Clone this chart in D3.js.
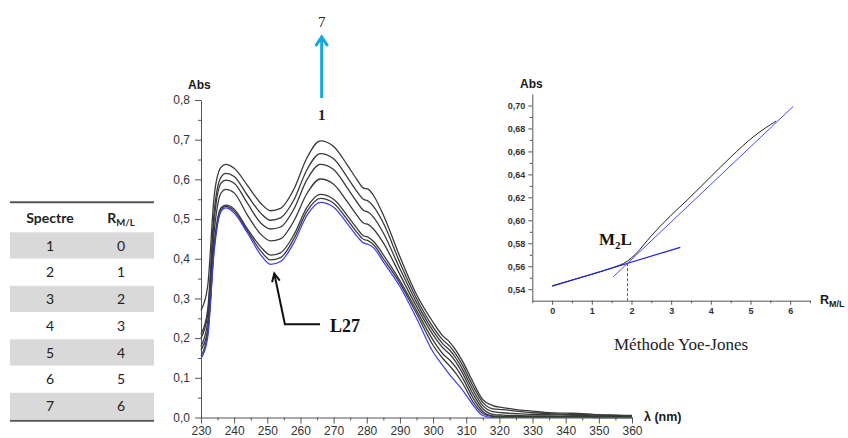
<!DOCTYPE html>
<html><head><meta charset="utf-8">
<script src="https://cdn.jsdelivr.net/npm/d3@7"></script>
<style>body{margin:0;background:#fff;} svg{display:block;}</style>
</head><body><svg id="c" width="848" height="438"></svg>
<script>
// ---------- DATA ----------
const wavelengths = [230,232,234,236,237.5,240,244,248,251,254,258,262,266,270,274,277,279,280.5,282,285,290,295,300,303,305,307,309,312,315,318,321,325,330,335,340,345,350,355,360];
const spectrum1 = [0.148,0.2,0.42,0.518,0.528,0.515,0.465,0.41,0.386,0.393,0.44,0.51,0.542,0.53,0.49,0.457,0.44,0.436,0.428,0.392,0.33,0.25,0.165,0.13,0.108,0.088,0.068,0.032,0.005,0,0,0,0,0,0,0,0,0,0];
const spectrum2 = [0.155,0.21,0.43,0.524,0.532,0.52,0.47,0.42,0.397,0.403,0.45,0.52,0.552,0.54,0.5,0.467,0.449,0.445,0.436,0.4,0.338,0.262,0.182,0.148,0.13,0.11,0.085,0.04,0.01,0.002,0.001,0.001,0.001,0.001,0.001,0.001,0,0,0];
const spectrum3 = [0.17,0.22,0.44,0.528,0.535,0.525,0.475,0.43,0.409,0.415,0.46,0.53,0.562,0.55,0.51,0.477,0.458,0.454,0.444,0.41,0.345,0.27,0.195,0.16,0.145,0.125,0.098,0.05,0.015,0.004,0.003,0.002,0.002,0.002,0.002,0.001,0.001,0.001,0.001];
const spectrum4 = [0.18,0.24,0.47,0.565,0.575,0.566,0.51,0.462,0.445,0.45,0.495,0.565,0.601,0.588,0.545,0.51,0.49,0.486,0.475,0.44,0.36,0.28,0.208,0.175,0.16,0.138,0.11,0.06,0.022,0.008,0.006,0.005,0.004,0.004,0.003,0.003,0.002,0.002,0.002];
const spectrum5 = [0.2,0.26,0.5,0.59,0.598,0.59,0.54,0.49,0.475,0.48,0.525,0.6,0.638,0.625,0.58,0.543,0.522,0.517,0.505,0.465,0.375,0.29,0.218,0.185,0.17,0.148,0.12,0.07,0.03,0.015,0.012,0.01,0.008,0.007,0.006,0.005,0.004,0.004,0.003];
const spectrum6 = [0.21,0.27,0.52,0.605,0.615,0.607,0.56,0.515,0.497,0.503,0.548,0.625,0.665,0.652,0.607,0.57,0.55,0.545,0.532,0.49,0.39,0.3,0.228,0.195,0.18,0.158,0.13,0.08,0.038,0.022,0.02,0.016,0.012,0.01,0.008,0.008,0.006,0.005,0.004];
const spectrum7 = [0.27,0.33,0.56,0.63,0.638,0.628,0.585,0.54,0.521,0.527,0.575,0.655,0.697,0.683,0.638,0.6,0.578,0.575,0.56,0.51,0.405,0.31,0.24,0.205,0.19,0.168,0.14,0.09,0.045,0.03,0.025,0.02,0.016,0.012,0.011,0.01,0.007,0.006,0.005];

const mainXTicks = [230,240,250,260,270,280,290,300,310,320,330,340,350,360];
const mainYTicks = [0,0.1,0.2,0.3,0.4,0.5,0.6,0.7,0.8];

const ratioX   = [0,0.5,1,1.5,1.9,2.1,2.5,3,3.4,4,4.5,5.1,5.65];
const ratioAbs = [0.543,0.548,0.553,0.5585,0.5645,0.5705,0.5865,0.6045,0.6175,0.638,0.655,0.6735,0.6865];
const fitLowX  = [0,3.23];
const fitLowY  = [0.5426,0.5765];
const fitHighX = [1.54,6.08];
const fitHighY = [0.5508,0.6993];
const stoichX = 1.9, stoichY = 0.5626;
const insetXTicks = [0,1,2,3,4,5,6];
const insetYTicks = [0.54,0.56,0.58,0.60,0.62,0.64,0.66,0.68,0.70];

const tableSpectre = ["1","2","3","4","5","6","7"];
const tableRatio   = ["0","1","2","3","4","5","6"];

// ---------- DRAW ----------
const svg = d3.select("#c");
const SANS = "'Liberation Sans', Arial, sans-serif";
const SERIF = "'Liberation Serif', 'Times New Roman', serif";
const comma = f => v => d3.format(f)(v).replace(".", ",");

function styleAxis(g, fs, bold){
  g.select(".domain").attr("stroke","#555").attr("stroke-width",1);
  g.selectAll(".tick line").attr("stroke","#555");
  g.selectAll(".tick text").attr("fill","#333").style("font-family",SANS)
    .style("font-size",fs+"px").style("font-weight",bold?"bold":"normal");
}

// main chart
const x = d3.scaleLinear().domain([230,360]).range([201,632]);
const y = d3.scaleLinear().domain([0,0.8]).range([417.5,100]);

const gy = svg.append("g").attr("transform","translate(201,0)")
  .call(d3.axisLeft(y).tickValues(mainYTicks).tickFormat(comma(".1f")).tickSize(6).tickSizeOuter(0).tickPadding(5));
styleAxis(gy,12,false);
const gym = svg.append("g").attr("transform","translate(201,0)")
  .call(d3.axisLeft(y).tickValues(d3.range(0.05,0.8,0.1)).tickFormat("").tickSize(3).tickSizeOuter(0));
gym.select(".domain").remove(); gym.selectAll("line").attr("stroke","#555");

const gx = svg.append("g").attr("transform","translate(0,417.5)")
  .call(d3.axisBottom(x).tickValues(mainXTicks).tickFormat(d3.format("d")).tickSize(6).tickSizeOuter(0).tickPadding(3));
styleAxis(gx,12,false);
const gxm = svg.append("g").attr("transform","translate(0,417.5)")
  .call(d3.axisBottom(x).tickValues(d3.range(235,360,10)).tickFormat("").tickSize(3).tickSizeOuter(0));
gxm.select(".domain").remove(); gxm.selectAll("line").attr("stroke","#555");

svg.append("text").attr("x",188).attr("y",89).text("Abs")
  .style("font-family",SANS).style("font-size","12px").style("font-weight","bold").attr("fill","#1a1a1a");
svg.append("text").attr("x",644).attr("y",421).text("λ (nm)")
  .style("font-family",SANS).style("font-size","12.5px").style("font-weight","bold").attr("fill","#1a1a1a");

const line = d3.line().x(d=>x(d[0])).y(d=>y(d[1])).curve(d3.curveMonotoneX);
const blacks = [spectrum7,spectrum6,spectrum5,spectrum4,spectrum3,spectrum2];
blacks.forEach(s=>{
  svg.append("path").datum(wavelengths.map((w,i)=>[w,s[i]])).attr("d",line)
    .attr("fill","none").attr("stroke","#3a3a3a").attr("stroke-width",1.3);
});
svg.append("path").datum(wavelengths.map((w,i)=>[w,spectrum1[i]])).attr("d",line)
  .attr("fill","none").attr("stroke","#3b3bf0").attr("stroke-width",1.2);

// cyan arrow 1 -> 7
const ax = x(266.4);
svg.append("line").attr("x1",ax).attr("x2",ax).attr("y1",98).attr("y2",38)
  .attr("stroke","#13a6df").attr("stroke-width",3);
svg.append("path").attr("d",`M${ax-6},${46} L${ax},${37} L${ax+6},${46}`)
  .attr("fill","none").attr("stroke","#13a6df").attr("stroke-width",3).attr("stroke-linejoin","miter");
svg.append("text").attr("x",ax).attr("y",27).attr("text-anchor","middle").text("7")
  .style("font-family",SERIF).style("font-size","15px").attr("fill","#222");
svg.append("text").attr("x",ax).attr("y",120).attr("text-anchor","middle").text("1")
  .style("font-family",SERIF).style("font-size","15px").style("font-weight","bold").attr("fill","#222");

// L27 annotation
const tip=[x(252.1),y(0.363)], elbow=[x(255.3),y(0.2348)], end=[x(265.9),y(0.2348)];
svg.append("path").attr("d",`M${end[0]},${end[1]} L${elbow[0]},${elbow[1]} L${tip[0]},${tip[1]}`)
  .attr("fill","none").attr("stroke","#111").attr("stroke-width",2);
{
  const ang=Math.atan2(tip[1]-elbow[1],tip[0]-elbow[0]);
  const L=9, a=0.45;
  const p1=[tip[0]-L*Math.cos(ang-a),tip[1]-L*Math.sin(ang-a)];
  const p2=[tip[0]-L*Math.cos(ang+a),tip[1]-L*Math.sin(ang+a)];
  svg.append("path").attr("d",`M${p1[0]},${p1[1]} L${tip[0]},${tip[1]} L${p2[0]},${p2[1]}`)
    .attr("fill","none").attr("stroke","#111").attr("stroke-width",2);
}
svg.append("text").attr("x",x(268.9)).attr("y",331.5).text("L27")
  .style("font-family",SERIF).style("font-size","18px").style("font-weight","bold").attr("fill","#111");

// inset
const xi = d3.scaleLinear().domain([-0.5,6.5]).range([532.3,810]);
const yi = d3.scaleLinear().domain([0.53,0.71]).range([300.7,94]);
const giy = svg.append("g").attr("transform","translate(532.3,0)")
  .call(d3.axisLeft(yi).tickValues(insetYTicks).tickFormat(comma(".2f")).tickSize(4).tickSizeOuter(0).tickPadding(3));
styleAxis(giy,9,true);
const giym = svg.append("g").attr("transform","translate(532.3,0)")
  .call(d3.axisLeft(yi).tickValues(d3.range(0.55,0.705,0.02)).tickFormat("").tickSize(2.5).tickSizeOuter(0));
giym.select(".domain").remove(); giym.selectAll("line").attr("stroke","#555");
const gix = svg.append("g").attr("transform","translate(0,300.7)")
  .call(d3.axisBottom(xi).tickValues(insetXTicks).tickFormat(d3.format("d")).tickSize(4).tickSizeOuter(0).tickPadding(3));
styleAxis(gix,9,true);
const gixm = svg.append("g").attr("transform","translate(0,300.7)")
  .call(d3.axisBottom(xi).tickValues(d3.range(-0.5,6.6,1)).tickFormat("").tickSize(2.5).tickSizeOuter(0));
gixm.select(".domain").remove(); gixm.selectAll("line").attr("stroke","#555");

svg.append("text").attr("x",520).attr("y",88).text("Abs")
  .style("font-family",SANS).style("font-size","12px").style("font-weight","bold").attr("fill","#1a1a1a");
const rl = svg.append("text").attr("x",820).attr("y",304)
  .style("font-family",SANS).style("font-weight","bold").attr("fill","#1a1a1a");
rl.append("tspan").text("R").style("font-size","12.5px");
rl.append("tspan").text("M/L").attr("dy",3).style("font-size","9px");

const lineI = d3.line().x(d=>xi(d[0])).y(d=>yi(d[1]));
svg.append("path").datum(ratioX.map((r,i)=>[r,ratioAbs[i]])).attr("d",lineI.curve(d3.curveMonotoneX))
  .attr("fill","none").attr("stroke","#222").attr("stroke-width",1);
const lineS = d3.line().x(d=>xi(d[0])).y(d=>yi(d[1]));
svg.append("path").datum(fitLowX.map((r,i)=>[r,fitLowY[i]])).attr("d",lineS)
  .attr("fill","none").attr("stroke","#2020ee").attr("stroke-width",1.2);
svg.append("path").datum(fitHighX.map((r,i)=>[r,fitHighY[i]])).attr("d",lineS)
  .attr("fill","none").attr("stroke","#4a4aff").attr("stroke-width",1);
svg.append("line").attr("x1",xi(stoichX)).attr("x2",xi(stoichX)).attr("y1",yi(stoichY)).attr("y2",yi(0.53))
  .attr("stroke","#e02020").attr("stroke-width",1).attr("stroke-dasharray","3,2");

const m2l = svg.append("text").attr("x",xi(1.18)).attr("y",yi(0.5789))
  .style("font-family",SERIF).style("font-weight","bold").attr("fill","#111");
m2l.append("tspan").text("M").style("font-size","17px");
m2l.append("tspan").text("2").attr("dy",4).style("font-size","11px");
m2l.append("tspan").text("L").attr("dy",-4).style("font-size","17px");

svg.append("text").attr("x",614).attr("y",350).text("Méthode Yoe-Jones")
  .style("font-family",SERIF).style("font-size","17px").attr("fill","#222");

// table
const tX0=10, tX1=154, rowTop=232.3, rowH=26.75;
const tg = svg.append("g");
tableSpectre.forEach((s,i)=>{
  if(i%2===0) tg.append("rect").attr("x",tX0).attr("y",rowTop+i*rowH).attr("width",tX1-tX0).attr("height",rowH-0.5).attr("fill","#d9d9d9");
  tg.append("text").attr("x",50).attr("y",rowTop+i*rowH+rowH/2+5).attr("text-anchor","middle").text(s)
    .style("font-family","Lato, 'Noto Sans', sans-serif").style("font-size","14px").attr("fill","#222");
  tg.append("text").attr("x",121).attr("y",rowTop+i*rowH+rowH/2+5).attr("text-anchor","middle").text(tableRatio[i])
    .style("font-family","Lato, 'Noto Sans', sans-serif").style("font-size","14px").attr("fill","#222");
});
tg.append("line").attr("x1",tX0).attr("x2",tX1).attr("y1",202.3).attr("y2",202.3).attr("stroke","#555").attr("stroke-width",2);
tg.append("line").attr("x1",tX0).attr("x2",tX1).attr("y1",420.7).attr("y2",420.7).attr("stroke","#555").attr("stroke-width",2);
tg.append("text").attr("x",50).attr("y",222.5).attr("text-anchor","middle").text("Spectre")
  .style("font-family","Lato, 'Noto Sans', sans-serif").style("font-size","14px").style("font-weight","bold").attr("fill","#222");
const rh = tg.append("text").attr("x",121).attr("y",222.5).attr("text-anchor","middle")
  .style("font-family","Lato, 'Noto Sans', sans-serif").style("font-weight","bold").attr("fill","#222");
rh.append("tspan").text("R").style("font-size","14px");
rh.append("tspan").text("M/L").attr("dy",3).style("font-size","9.5px");
</script></body></html>
